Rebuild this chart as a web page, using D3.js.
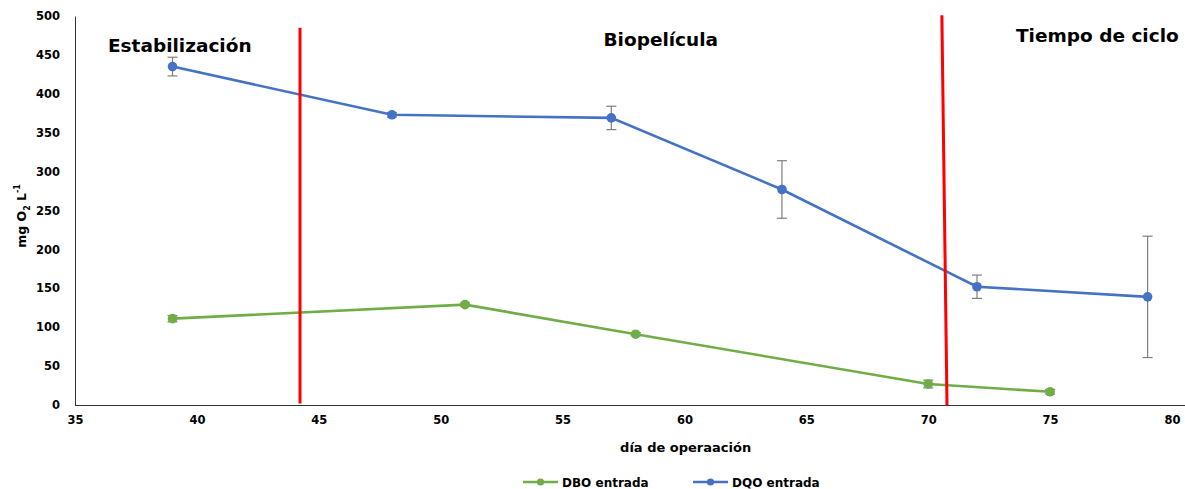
<!DOCTYPE html>
<html>
<head>
<meta charset="utf-8">
<script src="https://cdn.jsdelivr.net/npm/d3@7"></script>
<style>
  body { margin: 0; background: #fff; }
  text { font-family: "DejaVu Sans", "Open Sans", sans-serif; font-weight: bold; fill: #000; }
  .axis path, .axis line { stroke: #333; }
</style>
</head>
<body>
<script>
// day, value, error (+/-)
var dboDays = [39, 51, 58, 70, 75]
var dboVals = [111, 129, 91, 27, 17]
var dboErr  = [4, 2, 2, 5, 3]

var dqoDays = [39, 48, 57, 64, 72, 79]
var dqoVals = [435, 373, 369, 277, 152, 139]
var dqoErr  = [12, 3, 15, 37, 15, 78]

var xTicks = [35, 40, 45, 50, 55, 60, 65, 70, 75, 80]
var yTicks = [0, 50, 100, 150, 200, 250, 300, 350, 400, 450, 500]

// phase separators (day at bottom, day at top, top value)
var phaseLines = [
  {x0: 44.23, x1: 44.23, y0: 2, y1: 485},
  {x0: 70.77, x1: 70.56, y0: 0, y1: 501}
]
var phaseLabels = [
  {label: 'Estabilización', day: 36.35, val: 454, anchor: 'start'},
  {label: 'Biopelícula', day: 59.03, val: 461, anchor: 'middle'},
  {label: 'Tiempo de ciclo', day: 73.6, val: 466, anchor: 'start'}
]

var series = [
  {name: 'DBO entrada', color: '#70AD47', days: dboDays, vals: dboVals, err: dboErr},
  {name: 'DQO entrada', color: '#4472C4', days: dqoDays, vals: dqoVals, err: dqoErr}
]

var W = 1185, H = 489
var margin = {left: 75, top: 16, right: 13, bottom: 84}

var svg = d3.select('body').append('svg').attr('width', W).attr('height', H)

var x = d3.scaleLinear().domain([35, 80]).range([margin.left, W - margin.right])
var y = d3.scaleLinear().domain([0, 500]).range([H - margin.bottom, margin.top])

// axes
var xAxis = svg.append('g').attr('class', 'axis')
  .attr('transform', 'translate(0,' + y(0) + ')')
  .call(d3.axisBottom(x).tickValues(xTicks).tickSize(0).tickPadding(11))
xAxis.select('.domain').attr('d', 'M' + margin.left + ',0.5H' + W)
xAxis.selectAll('text').style('font-size', '11.5px')

var yAxis = svg.append('g').attr('class', 'axis')
  .attr('transform', 'translate(' + margin.left + ',0)')
  .call(d3.axisLeft(y).tickValues(yTicks).tickSize(0).tickPadding(15))
yAxis.selectAll('text').style('font-size', '11.5px')

// axis titles
svg.append('text')
  .attr('x', x(60.05)).attr('y', 452)
  .attr('text-anchor', 'middle').style('font-size', '13px')
  .text('día de operaación')

var yt = svg.append('text')
  .attr('transform', 'translate(26,' + y(243) + ') rotate(-90)')
  .attr('text-anchor', 'middle').style('font-size', '12.5px')
yt.append('tspan').text('mg O')
yt.append('tspan').attr('dy', 4).style('font-size', '8px').text('2')
yt.append('tspan').attr('dy', -4).text(' L')
yt.append('tspan').attr('dy', -6).style('font-size', '8px').text('-1')

// series
var line = d3.line().x(d => x(d.day)).y(d => y(d.val))

series.forEach(function(s) {
  var pts = s.days.map((d, i) => ({day: d, val: s.vals[i], err: s.err[i]}))
  var g = svg.append('g')
  g.append('path').datum(pts)
    .attr('d', line).attr('fill', 'none')
    .attr('stroke', s.color).attr('stroke-width', 2.6)

  var eb = g.selectAll('.eb').data(pts).enter().append('g').attr('stroke', '#7f7f7f').attr('stroke-width', 1.2)
  eb.append('line')
    .attr('x1', d => x(d.day)).attr('x2', d => x(d.day))
    .attr('y1', d => y(d.val + d.err)).attr('y2', d => y(d.val - d.err))
  eb.append('line')
    .attr('x1', d => x(d.day) - 5).attr('x2', d => x(d.day) + 5)
    .attr('y1', d => y(d.val + d.err)).attr('y2', d => y(d.val + d.err))
  eb.append('line')
    .attr('x1', d => x(d.day) - 5).attr('x2', d => x(d.day) + 5)
    .attr('y1', d => y(d.val - d.err)).attr('y2', d => y(d.val - d.err))

  g.selectAll('circle').data(pts).enter().append('circle')
    .attr('cx', d => x(d.day)).attr('cy', d => y(d.val))
    .attr('r', 4.8).attr('fill', s.color)
})

// red phase lines
svg.selectAll('.phase').data(phaseLines).enter().append('line')
  .attr('x1', d => x(d.x0)).attr('x2', d => x(d.x1))
  .attr('y1', d => y(d.y0)).attr('y2', d => y(d.y1))
  .attr('stroke', '#FF0000').attr('stroke-width', 3)

svg.selectAll('.plabel').data(phaseLabels).enter().append('text')
  .attr('x', d => x(d.day)).attr('y', d => y(d.val))
  .attr('text-anchor', d => d.anchor)
  .style('font-size', '18.5px')
  .text(d => d.label)

// legend
var lx = [523, 693]
var leg = svg.selectAll('.leg').data(series).enter().append('g')
  .attr('transform', (d, i) => 'translate(' + lx[i] + ',482)')
leg.append('line').attr('x1', 0).attr('x2', 35).attr('y1', 0).attr('y2', 0)
  .attr('stroke', d => d.color).attr('stroke-width', 2.6)
leg.append('circle').attr('cx', 17.5).attr('cy', 0).attr('r', 3.6).attr('fill', d => d.color)
leg.append('text').attr('x', 39).attr('y', 4.5).style('font-size', '12px').text(d => d.name)
</script>
</body>
</html>
